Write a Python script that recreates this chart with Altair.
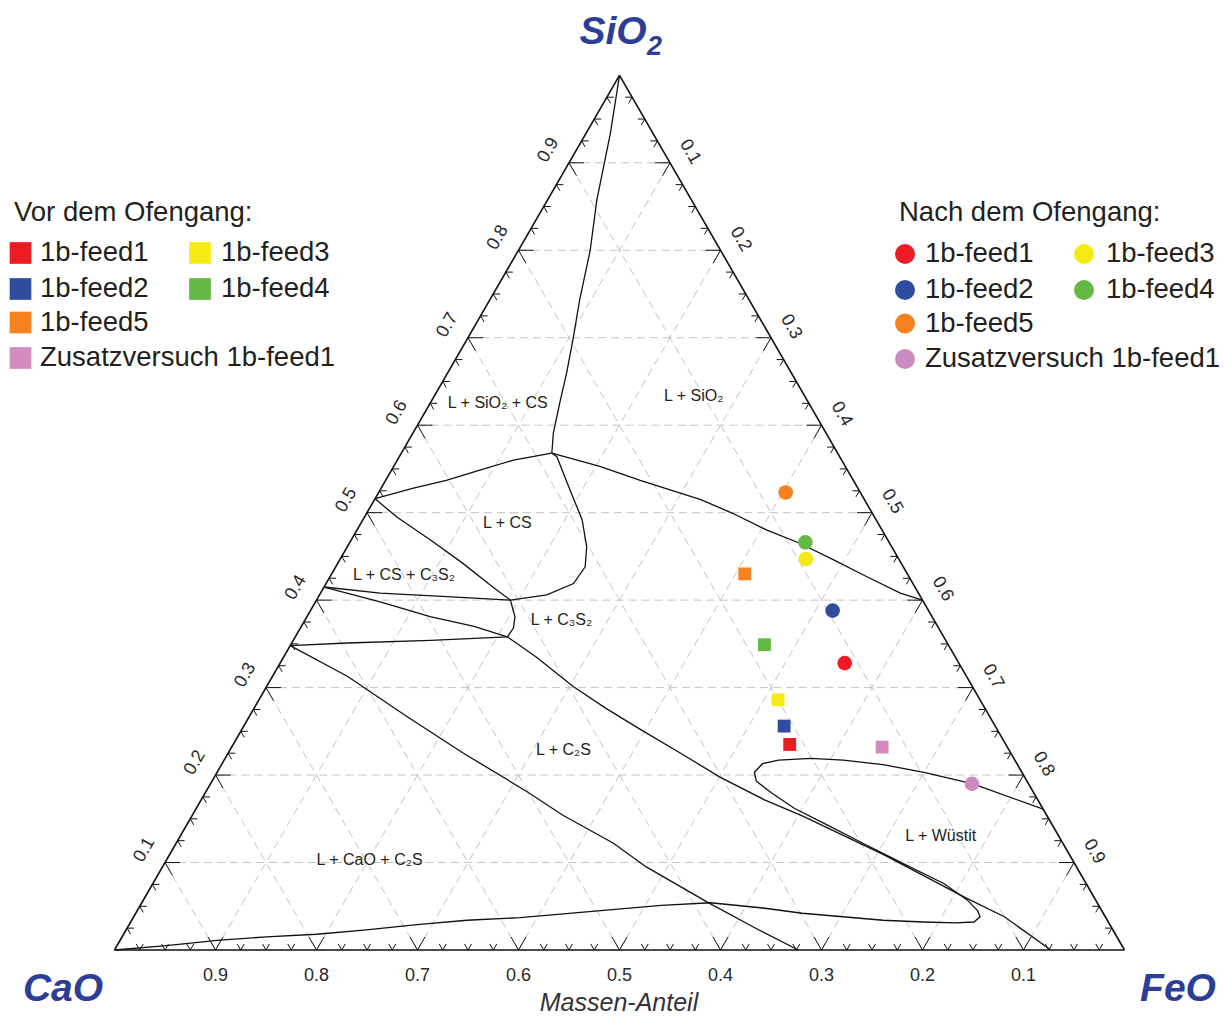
import altair as alt
import numpy as np
import pandas as pd

# ---------------- data: mass fractions ----------------
series_names = ["1b-feed1", "1b-feed2", "1b-feed3", "1b-feed4", "1b-feed5", "Zusatzversuch 1b-feed1"]
square_colors = ["#ed1c24", "#2f4d9f", "#f6ea14", "#64b946", "#f5821f", "#d48bbf"]
circle_colors = ["#ed1c24", "#2f4d9f", "#f6ea14", "#64b946", "#f5821f", "#cb8ac0"]

# Vor dem Ofengang (squares)
vor_sio2 = [0.235, 0.256, 0.286, 0.349, 0.430, 0.232]
vor_feo = [0.551, 0.535, 0.514, 0.469, 0.409, 0.644]
# Nach dem Ofengang (circles)
nach_sio2 = [0.328, 0.388, 0.447, 0.466, 0.523, 0.190]
nach_feo = [0.559, 0.517, 0.461, 0.451, 0.403, 0.754]

# phase boundaries (SiO2, FeO mass fractions)
b1_sio2 = [1.000, 0.934, 0.857, 0.800, 0.743, 0.698, 0.659, 0.629, 0.591, 0.568]
b1_feo = [0.000, 0.024, 0.049, 0.071, 0.089, 0.105, 0.118, 0.127, 0.139, 0.149]
b2_sio2 = [0.568, 0.560, 0.549, 0.537, 0.528, 0.516]
b2_feo = [0.149, 0.115, 0.088, 0.060, 0.032, 0.000]
b3_sio2 = [0.568, 0.564, 0.526, 0.492, 0.461, 0.438, 0.419, 0.406, 0.400]
b3_feo = [0.149, 0.156, 0.188, 0.217, 0.237, 0.247, 0.245, 0.225, 0.192]
b4_sio2 = [0.568, 0.553, 0.537, 0.515, 0.499, 0.480, 0.465, 0.446, 0.427, 0.408, 0.400]
b4_feo = [0.149, 0.204, 0.252, 0.323, 0.363, 0.406, 0.446, 0.489, 0.531, 0.574, 0.600]
b5_sio2 = [0.516, 0.495, 0.469, 0.442, 0.415, 0.400]
b5_feo = [0.000, 0.032, 0.078, 0.124, 0.167, 0.192]
b6_sio2 = [0.415, 0.408, 0.404, 0.400]
b6_feo = [0.000, 0.059, 0.127, 0.192]
b7_sio2 = [0.415, 0.398, 0.381, 0.370, 0.358]
b7_feo = [0.000, 0.064, 0.122, 0.171, 0.210]
b8_sio2 = [0.400, 0.381, 0.368, 0.358]
b8_feo = [0.192, 0.206, 0.211, 0.210]
b9_sio2 = [0.348, 0.351, 0.354, 0.358]
b9_feo = [0.000, 0.055, 0.136, 0.210]
b10_sio2 = [0.348, 0.313, 0.267, 0.225, 0.181, 0.154, 0.122, 0.095, 0.055, 0.026, 0.000]
b10_feo = [0.000, 0.074, 0.156, 0.233, 0.318, 0.367, 0.433, 0.479, 0.559, 0.620, 0.677]
b11_sio2 = [0.358, 0.335, 0.301, 0.276, 0.252, 0.225, 0.198, 0.172, 0.153, 0.109, 0.061, 0.038, 0.000]
b11_feo = [0.210, 0.250, 0.304, 0.349, 0.395, 0.448, 0.500, 0.557, 0.605, 0.707, 0.810, 0.862, 0.927]
b12_sio2 = [0.000, 0.005, 0.011, 0.015, 0.018, 0.023, 0.029, 0.034, 0.037, 0.045, 0.051, 0.054,
            0.048, 0.042, 0.038, 0.034, 0.032, 0.031, 0.032, 0.038, 0.045, 0.057, 0.076, 0.099,
            0.122, 0.143, 0.162, 0.180, 0.193, 0.203, 0.213, 0.217, 0.219, 0.217, 0.212, 0.203,
            0.190, 0.161]
b12_feo = [0.000, 0.049, 0.096, 0.143, 0.191, 0.238, 0.285, 0.332, 0.383, 0.459, 0.516, 0.563,
           0.618, 0.660, 0.702, 0.744, 0.785, 0.817, 0.835, 0.838, 0.832, 0.816, 0.783, 0.731,
           0.680, 0.634, 0.592, 0.560, 0.539, 0.532, 0.535, 0.549, 0.580, 0.613, 0.655, 0.700,
           0.755, 0.839]

region_labels = ["L + SiO₂ + CS", "L + SiO₂", "L + CS", "L + CS + C₃S₂", "L + C₃S₂",
                 "L + C₂S", "L + CaO + C₂S", "L + Wüstit"]
region_sio2 = [0.625, 0.633, 0.488, 0.429, 0.377, 0.229, 0.103, 0.130]
region_feo = [0.067, 0.257, 0.145, 0.072, 0.254, 0.330, 0.201, 0.753]

tick_labels = ["0.1", "0.2", "0.3", "0.4", "0.5", "0.6", "0.7", "0.8", "0.9"]
tick_values = [0.1, 0.2, 0.3, 0.4, 0.5, 0.6, 0.7, 0.8, 0.9]

# ---------------- geometry ----------------
H = np.sqrt(3) / 2
PX = 1.0 / 1010.0          # data units per pixel (triangle side = 1010 px)
W, HT = 1215, 1010         # chart size
X0, Y0 = 106.5, 942.0      # plot pixel of the CaO corner


def cart(sio2, feo):
    s = np.asarray(sio2, float)
    f = np.asarray(feo, float)
    return f + s / 2.0, s * H


def sx(px):  # screen x -> data
    return (px - 8 - X0) * PX


def sy(py):  # screen y -> data
    return (Y0 - (py - 8)) * PX


xs = alt.Scale(domain=[-X0 * PX, (W - X0) * PX], nice=False, zero=False)
ys = alt.Scale(domain=[(Y0 - HT) * PX, Y0 * PX], nice=False, zero=False)


def ex(f="x"):
    return alt.X(f"{f}:Q", scale=xs, axis=None)


def ey(f="y"):
    return alt.Y(f"{f}:Q", scale=ys, axis=None)


FONT = "Liberation Sans"
TXT = "#231f20"
BLUE = "#2d3e97"

# ---------------- grid ----------------
grid = []
for v in tick_values:
    for (s1, f1, s2, f2) in [(v, 0, v, 1 - v), (0, 1 - v, 1 - v, 0), (0, v, 1 - v, v)]:
        xa, ya = cart(s1, f1)
        xb, yb = cart(s2, f2)
        grid.append(dict(x=float(xa), y=float(ya), x2=float(xb), y2=float(yb)))
grid_layer = alt.Chart(pd.DataFrame(grid)).mark_rule(
    color="#c4c4c4", strokeWidth=1, strokeDash=[8, 5]
).encode(x=ex(), y=ey(), x2="x2", y2="y2")

# ---------------- boundaries ----------------
rows = []
for cid, (ss, ff) in enumerate([(b1_sio2, b1_feo), (b2_sio2, b2_feo), (b3_sio2, b3_feo),
                                (b4_sio2, b4_feo), (b5_sio2, b5_feo), (b6_sio2, b6_feo),
                                (b7_sio2, b7_feo), (b8_sio2, b8_feo), (b9_sio2, b9_feo),
                                (b10_sio2, b10_feo), (b11_sio2, b11_feo), (b12_sio2, b12_feo)]):
    cx, cy = cart(ss, ff)
    for i, (a, b) in enumerate(zip(cx, cy)):
        rows.append(dict(cid=cid, i=i, x=float(a), y=float(b)))
curve_layer = alt.Chart(pd.DataFrame(rows)).mark_line(
    color="#111111", strokeWidth=1.3
).encode(x=ex(), y=ey(), detail="cid:N", order="i:Q")

# ---------------- triangle edges ----------------
cx, cy = cart([0, 0, 1], [0, 1, 0])
edges = [dict(x=float(cx[i]), y=float(cy[i]), x2=float(cx[(i + 1) % 3]), y2=float(cy[(i + 1) % 3]))
         for i in range(3)]
edge_layer = alt.Chart(pd.DataFrame(edges)).mark_rule(color="#111111", strokeWidth=1.6).encode(
    x=ex(), y=ey(), x2="x2", y2="y2")

# ---------------- ticks ----------------
ticks = []
for k in range(1, 40):
    t = k / 40
    L = (15 if k % 4 == 0 else 7) * PX
    # bottom edge
    px_, py_ = t, 0.0
    ticks += [dict(x=px_, y=py_, x2=px_ - 0.5 * L, y2=py_ + H * L),
              dict(x=px_, y=py_, x2=px_ + 0.5 * L, y2=py_ + H * L)]
    # left edge
    px_, py_ = t / 2, t * H
    ticks += [dict(x=px_, y=py_, x2=px_ + L, y2=py_),
              dict(x=px_, y=py_, x2=px_ + 0.5 * L, y2=py_ - H * L)]
    # right edge
    px_, py_ = 0.5 + t / 2, (1 - t) * H
    ticks += [dict(x=px_, y=py_, x2=px_ - L, y2=py_),
              dict(x=px_, y=py_, x2=px_ - 0.5 * L, y2=py_ - H * L)]
tick_layer = alt.Chart(pd.DataFrame(ticks)).mark_rule(color="#111111", strokeWidth=1).encode(
    x=ex(), y=ey(), x2="x2", y2="y2")

# ---------------- tick labels ----------------
bl = pd.DataFrame(dict(t=tick_labels, x=[1 - v for v in tick_values], y=[sy(976)] * 9))
ll = pd.DataFrame(dict(t=tick_labels, x=[v / 2 - 20.5 * PX for v in tick_values],
                       y=[v * H + 12.5 * PX for v in tick_values]))
rl = pd.DataFrame(dict(t=tick_labels, x=[0.5 + v / 2 + 20 * PX for v in tick_values],
                       y=[(1 - v) * H + 11 * PX for v in tick_values]))
lab_kw = dict(font=FONT, fontSize=18, color="#2a2a2a", align="center", baseline="middle")
bl_layer = alt.Chart(bl).mark_text(**lab_kw).encode(x=ex(), y=ey(), text="t:N")
ll_layer = alt.Chart(ll).mark_text(angle=300, **lab_kw).encode(x=ex(), y=ey(), text="t:N")
rl_layer = alt.Chart(rl).mark_text(angle=60, **lab_kw).encode(x=ex(), y=ey(), text="t:N")

# ---------------- region labels ----------------
rx, ry = cart(region_sio2, region_feo)
reg = pd.DataFrame(dict(t=region_labels, x=rx, y=ry))
reg_layer = alt.Chart(reg).mark_text(font=FONT, fontSize=16, color=TXT, align="center",
                                     baseline="middle").encode(x=ex(), y=ey(), text="t:N")

# ---------------- measured points ----------------
vx, vy = cart(vor_sio2, vor_feo)
nx, ny = cart(nach_sio2, nach_feo)
sq = pd.DataFrame(dict(x=vx, y=vy, c=square_colors, n=series_names))
ci = pd.DataFrame(dict(x=nx, y=ny, c=circle_colors, n=series_names))
sq_layer = alt.Chart(sq).mark_point(shape="square", filled=True, size=165, opacity=1, strokeWidth=0).encode(
    x=ex(), y=ey(), color=alt.Color("c:N", scale=None))
ci_layer = alt.Chart(ci).mark_point(shape="circle", filled=True, size=215, opacity=1, strokeWidth=0).encode(
    x=ex(), y=ey(), color=alt.Color("c:N", scale=None))

# ---------------- legends ----------------
leg_col = [0, 0, 1, 1, 0, 0]
leg_row = [0, 1, 0, 1, 2, 3]
row_y = [253, 289, 322.5, 358]
left_sym_x, left_txt_x = [20.5, 200], [40, 221]
right_sym_x, right_txt_x = [905, 1084], [925, 1106]

lv = pd.DataFrame(dict(
    sx=[sx(left_sym_x[c]) for c in leg_col], tx=[sx(left_txt_x[c]) for c in leg_col],
    y=[sy(row_y[r]) for r in leg_row], c=square_colors, n=series_names))
rv = pd.DataFrame(dict(
    sx=[sx(right_sym_x[c]) for c in leg_col], tx=[sx(right_txt_x[c]) for c in leg_col],
    y=[sy(row_y[r] + 1) for r in leg_row], c=circle_colors, n=series_names))

LEGFS = 27.5
leg_txt_kw = dict(font=FONT, fontSize=LEGFS, color=TXT, align="left", baseline="middle")
leg_layers = [
    alt.Chart(lv).mark_point(shape="square", filled=True, size=470, opacity=1, strokeWidth=0).encode(
        x=ex("sx"), y=ey(), color=alt.Color("c:N", scale=None)),
    alt.Chart(lv).mark_text(**leg_txt_kw).encode(x=ex("tx"), y=ey(), text="n:N"),
    alt.Chart(rv).mark_point(shape="circle", filled=True, size=400, opacity=1, strokeWidth=0).encode(
        x=ex("sx"), y=ey(), color=alt.Color("c:N", scale=None)),
    alt.Chart(rv).mark_text(**leg_txt_kw).encode(x=ex("tx"), y=ey(), text="n:N"),
]

heads = pd.DataFrame(dict(t=["Vor dem Ofengang:", "Nach dem Ofengang:"],
                          x=[sx(14), sx(899)], y=[sy(221), sy(221)]))
head_layer = alt.Chart(heads).mark_text(font=FONT, fontSize=LEGFS, color=TXT, align="left",
                                        baseline="alphabetic").encode(x=ex(), y=ey(), text="t:N")

# ---------------- titles ----------------
big = pd.DataFrame(dict(t=["SiO", "CaO", "FeO"], x=[sx(613), sx(63), sx(1178)],
                        y=[sy(44), sy(1001), sy(1001)]))
big_layer = alt.Chart(big).mark_text(font=FONT, fontSize=39, fontWeight="bold", fontStyle="italic",
                                     color=BLUE, align="center", baseline="alphabetic").encode(
    x=ex(), y=ey(), text="t:N")
sub = pd.DataFrame(dict(t=["2"], x=[sx(647)], y=[sy(55)]))
sub_layer = alt.Chart(sub).mark_text(font=FONT, fontSize=27, fontWeight="bold", fontStyle="italic",
                                     color=BLUE, align="left", baseline="alphabetic").encode(
    x=ex(), y=ey(), text="t:N")
xt = pd.DataFrame(dict(t=["Massen-Anteil"], x=[sx(619)], y=[sy(1011)]))
xt_layer = alt.Chart(xt).mark_text(font=FONT, fontSize=25, fontStyle="italic", color="#333333",
                                   align="center", baseline="alphabetic").encode(
    x=ex(), y=ey(), text="t:N")

chart = alt.layer(
    grid_layer, curve_layer, edge_layer, tick_layer, bl_layer, ll_layer, rl_layer, reg_layer,
    sq_layer, ci_layer, *leg_layers, head_layer, big_layer, sub_layer, xt_layer
).properties(
    width=W, height=HT, padding=0, autosize=alt.AutoSizeParams(type="none")
).configure(background="white", view=alt.ViewConfig(strokeWidth=0, stroke=None))

chart.save("out.html", embed_options={"renderer": "svg", "actions": False})
